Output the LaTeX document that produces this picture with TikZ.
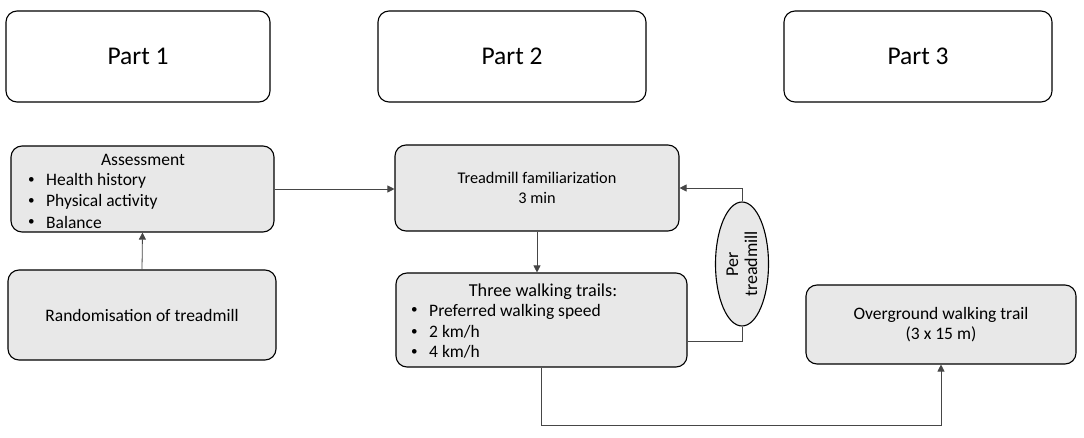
\documentclass[tikz,border=0pt]{standalone}
\usepackage{fontspec}
\setmainfont{Carlito}
\usetikzlibrary{arrows.meta,shapes.geometric,calc}
\definecolor{boxfill}{RGB}{232,232,232}
\definecolor{linegray}{RGB}{70,70,70}
\newcommand{\bul}{\makebox[18pt][l]{\raisebox{0.12em}{\scalebox{0.75}{•}}}}
\begin{document}
\begin{tikzpicture}[x=1pt,y=-1pt,
  partbox/.style={draw=black,line width=1.1pt,rounded corners=11pt,fill=white,inner sep=0pt},
  flowbox/.style={draw=black,line width=1.1pt,rounded corners=11pt,fill=boxfill,inner sep=0pt},
  boxtext/.style={font=\fontsize{17.5}{19.5}\selectfont,inner sep=0pt,align=center},
  bullettext/.style={font=\fontsize{17.5}{19.5}\selectfont,inner sep=0pt,anchor=west},
  conn/.style={draw=linegray,line width=0.8pt},
  arr/.style={conn,-{Triangle[length=7pt,width=7pt]}}]
\useasboundingbox (0,0) rectangle (1084,438);
% Part boxes
\node[partbox,minimum width=264pt,minimum height=91pt,font=\fontsize{25.5}{30}\selectfont] (p1) at (138,56.5) {Part 1};
\node[partbox,minimum width=268pt,minimum height=91pt,font=\fontsize{25.5}{30}\selectfont] (p2) at (512,56.5) {Part 2};
\node[partbox,minimum width=268pt,minimum height=91pt,font=\fontsize{25.5}{30}\selectfont] (p3) at (918,56.5) {Part 3};
% Assessment
\node[flowbox,minimum width=263pt,minimum height=86pt] (assess) at (142.5,189) {};
\node[boxtext] (assessT) at (143,160) {Assessment};
\node[bullettext] (a1) at (28,181) {\bul Health history};
\node[bullettext] (a2) at (28,201.5) {\bul Physical activity};
\node[bullettext] (a3) at (28,222) {\bul Balance};
% Randomisation
\node[flowbox,minimum width=268pt,minimum height=90pt,boxtext] (rand) at (142,315) {Randomisation of treadmill};
% Treadmill familiarization
\node[flowbox,minimum width=284pt,minimum height=86pt,boxtext,font=\fontsize{16.3}{19.5}\selectfont] (fam) at (537,188) {Treadmill familiarization\\3 min};
% Three walking trails
\node[flowbox,minimum width=291pt,minimum height=94pt] (trails) at (541.5,320) {};
\node[boxtext,font=\fontsize{18.2}{20}\selectfont] (trailsT) at (543,292) {Three walking trails:};
\node[bullettext] (t1) at (411,311.5) {\bul Preferred walking speed};
\node[bullettext] (t2) at (411,332) {\bul 2 km/h};
\node[bullettext] (t3) at (411,352) {\bul 4 km/h};
% Per treadmill ellipse
\node[ellipse,draw=black,line width=1.1pt,fill=boxfill,minimum width=53pt,minimum height=124pt,inner sep=0pt] (ell) at (742,264) {};
\node[boxtext,rotate=90,font=\fontsize{18}{19}\selectfont] (ellT) at (742,264) {Per\\treadmill};
% Overground
\node[flowbox,minimum width=270pt,minimum height=79pt,boxtext,font=\fontsize{17.5}{20}\selectfont] (over) at (941,324.5) {Overground walking trail\\(3 x 15 m)};
% Connectors
\draw[arr] (rand.north) -- (assess.south);
\draw[arr] (assess.east) -- (assess.east -| fam.west);
\draw[arr] (fam.south) -- (fam.south |- trails.north);
\coordinate (c1) at (742,341);
\draw[conn] (trails.east |- c1) -- (c1) -- (ell.south);
\draw[arr] (ell.north) |- (fam.east);
\coordinate (c2) at (541.5,425);
\draw[arr] (trails.south) -- (c2) -| (over.south);
\end{tikzpicture}
\end{document}
